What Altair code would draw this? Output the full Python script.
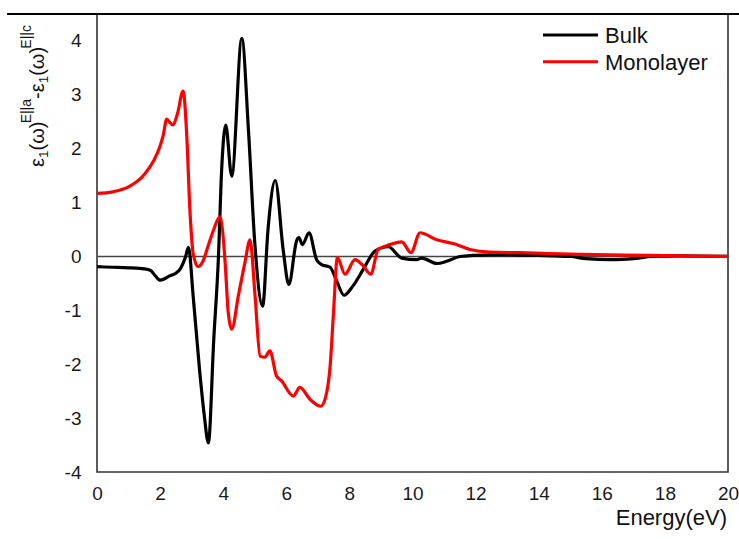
import altair as alt
import pandas as pd

# ---- data ----
bulk_x = [0, 0.5, 1.0, 1.5, 1.7, 1.85, 2.0, 2.15, 2.3, 2.5, 2.65, 2.8, 2.9, 3.05, 3.25, 3.4, 3.53,
          3.7, 3.85, 3.95, 4.08, 4.27, 4.59, 4.8, 5.0, 5.25, 5.42, 5.65, 5.9, 6.08, 6.33, 6.4,
          6.51, 6.72, 6.96, 7.12, 7.39, 7.6, 7.83, 8.11, 8.44, 8.81, 9.23, 9.66, 10.13, 10.29,
          10.77, 11.08, 11.5, 11.93, 12.5, 13.0, 14.0, 15.0, 15.5, 16.3, 17.0, 17.6, 18.5, 20.0]
bulk_y = [-0.19, -0.2, -0.21, -0.23, -0.26, -0.36, -0.44, -0.41, -0.36, -0.31, -0.22, -0.02, 0.17,
          -0.75, -2.1, -2.95, -3.46, -1.55, 0.0, 1.6, 2.44, 1.49, 4.05, 2.35, 0.26, -0.92, 0.5, 1.41,
          0.13, -0.52, 0.3, 0.35, 0.22, 0.44, -0.06, -0.15, -0.2, -0.46, -0.72, -0.55, -0.24, 0.1,
          0.18, -0.03, -0.06, -0.03, -0.13, -0.09, 0.0, 0.02, 0.03, 0.03, 0.02, 0.0, -0.04, -0.06,
          -0.04, 0.0, 0.01, 0.0]

mono_x = [0, 0.5, 1.0, 1.5, 1.8, 2.0, 2.1, 2.21, 2.32, 2.41, 2.55, 2.73, 2.84, 2.95, 3.05, 3.2,
          3.35, 3.52, 3.7, 3.9, 4.06, 4.16, 4.27, 4.48, 4.69, 4.85, 5.01, 5.17, 5.32, 5.48, 5.69,
          5.85, 6.22, 6.43, 6.75, 7.09, 7.25, 7.39, 7.49, 7.62, 7.86, 8.18, 8.4, 8.68, 8.91, 9.29,
          9.66, 9.95, 10.24, 10.77, 11.29, 11.82, 12.46, 13.4, 15.3, 17.5, 20.0]
mono_y = [1.17, 1.2, 1.29, 1.52, 1.78, 2.05, 2.25, 2.55, 2.48, 2.44, 2.65, 3.07, 2.3, 0.8, 0.05,
          -0.19, -0.1, 0.19, 0.5, 0.74, -0.1, -1.04, -1.35, -0.73, -0.11, 0.31, -0.73, -1.85, -1.87,
          -1.75, -2.22, -2.31, -2.59, -2.43, -2.65, -2.78, -2.6, -2.03, -1.1, -0.02, -0.33, -0.06,
          -0.15, -0.33, 0.13, 0.22, 0.27, 0.07, 0.44, 0.31, 0.24, 0.13, 0.08, 0.07, 0.04, 0.02, 0.0]

series_names = ["Bulk", "Monolayer"]
series_colors = ["#000000", "#ff0000"]
x_ticks = list(range(0, 21, 2))
y_ticks = list(range(-4, 5))

df = pd.concat([
    pd.DataFrame({"E": bulk_x, "v": bulk_y, "s": "Bulk"}),
    pd.DataFrame({"E": mono_x, "v": mono_y, "s": "Monolayer"}),
])

W, H = 631, 458
FONT = "Liberation Sans"

lines = alt.Chart(df).mark_line(strokeWidth=3.2, interpolate="monotone").encode(
    x=alt.X("E:Q", scale=alt.Scale(domain=[0, 20], nice=False),
            axis=alt.Axis(values=x_ticks, title=None, ticks=False, domain=False, grid=False,
                          labelFontSize=19, labelPadding=12, labelFont=FONT, labelColor="#1a1a1a",
                          labelFlush=False, labelExpr="'' + datum.value")),
    y=alt.Y("v:Q", scale=alt.Scale(domain=[-4, 4.5], nice=False),
            axis=alt.Axis(values=y_ticks, title=None, ticks=False, domain=False, grid=False,
                          labelFontSize=19, labelPadding=16, labelFont=FONT, labelColor="#1a1a1a",
                          labelFlush=False, labelExpr="'' + datum.value")),
    color=alt.Color("s:N", scale=alt.Scale(domain=series_names, range=series_colors), legend=None),
    detail="s:N",
)

zero = alt.Chart(pd.DataFrame({"z": [0]})).mark_rule(color="#444444", strokeWidth=1.6).encode(
    y="z:Q", x=alt.value(0), x2=alt.value(W))

one = pd.DataFrame({"a": [0]})
top_line = alt.Chart(one).mark_rule(color="#000000", strokeWidth=2.2).encode(
    x=alt.value(-90), x2=alt.value(642), y=alt.value(0))

# legend
leg = []
for i, (nm, col) in enumerate(zip(series_names, series_colors)):
    yy = 21 + i * 26.7
    leg.append(alt.Chart(one).mark_rule(color=col, strokeWidth=3).encode(
        x=alt.value(446), x2=alt.value(501), y=alt.value(yy)))
    leg.append(alt.Chart(one).mark_text(text=nm, align="left", baseline="middle", fontSize=22,
                                        font=FONT, color="#111111").encode(
        x=alt.value(508), y=alt.value(yy + 1)))

xtitle = alt.Chart(one).mark_text(text="Energy(eV)", align="right", baseline="alphabetic",
                                  fontSize=22, font=FONT, color="#111111").encode(
    x=alt.value(W - 1), y=alt.value(511))

# y title built from pieces (main, subscript, superscript)
widths = {"ε": 0.45, "ω": 0.69, "(": 0.333, ")": 0.333, "-": 0.333, "E": 0.667, "|": 0.26,
          "a": 0.556, "c": 0.5, "1": 0.556}
pieces = [("ε", "m"), ("1", "sub"), ("(ω)", "m"), ("E||a", "sup"), ("-ε", "m"), ("1", "sub"),
          ("(ω)", "m"), ("E||c", "sup")]
sizes = {"m": 20, "sub": 13.5, "sup": 14}
base_x = {"m": 44 - 97, "sub": 48 - 97, "sup": 31 - 97}
ytitle = []
pos = 167 - 14
for txt, kind in pieces:
    fs = sizes[kind]
    ytitle.append(alt.Chart(one).mark_text(text=txt, align="left", baseline="alphabetic", angle=270,
                                           fontSize=fs, font=FONT, color="#111111").encode(
        x=alt.value(base_x[kind]), y=alt.value(pos)))
    pos -= sum(widths[c] for c in txt) * fs

chart = alt.layer(zero, lines, top_line, xtitle, *leg, *ytitle).properties(
    width=W, height=H,
    autosize=alt.AutoSizeParams(type="none"),
    padding={"left": 97, "top": 14, "right": 11, "bottom": 67},
    background="#ffffff",
).configure_view(stroke="#333333", strokeWidth=1.6)

chart.save("out.html", embed_options={"renderer": "svg", "actions": False})
